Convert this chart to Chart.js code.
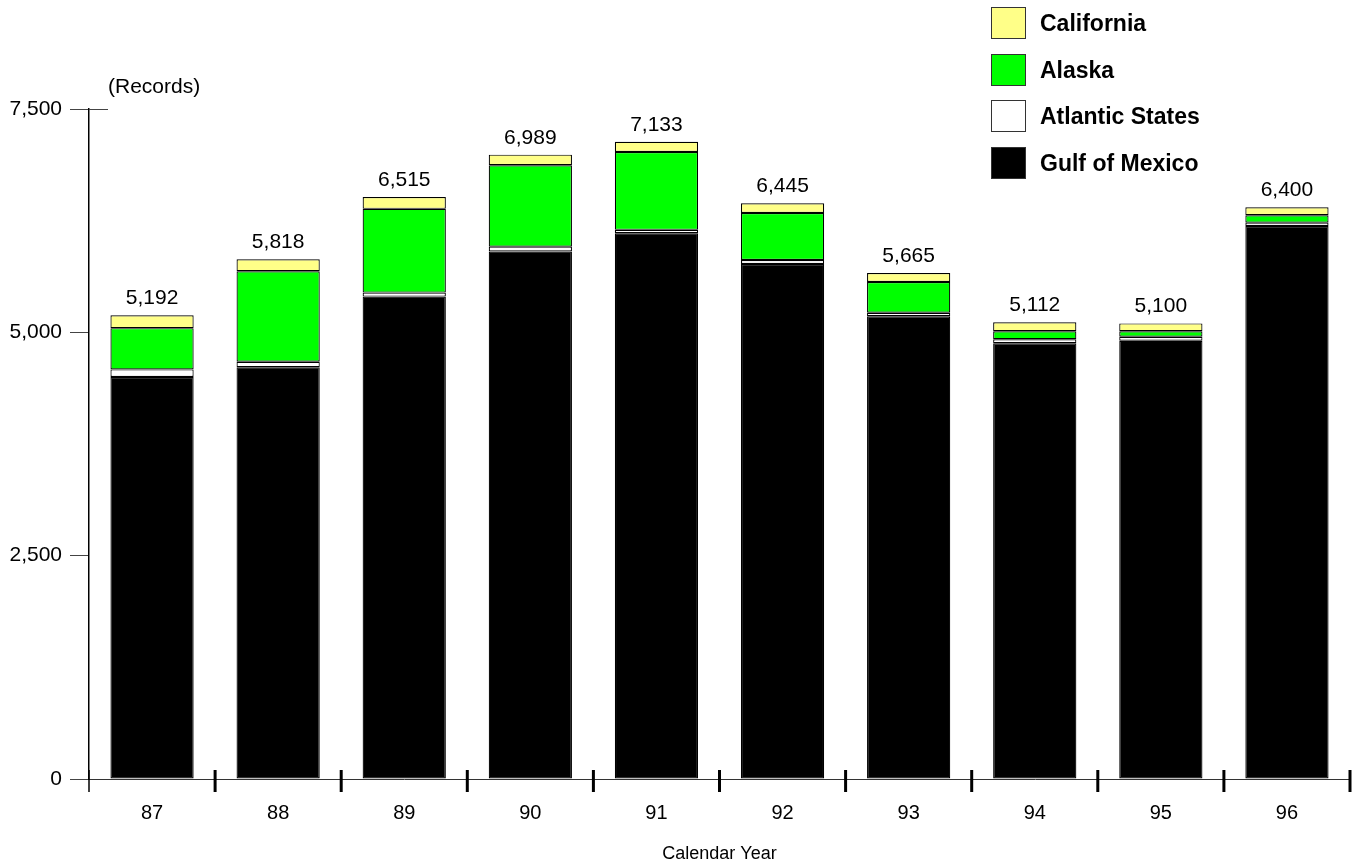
<!DOCTYPE html>
<html>
<head>
<meta charset="utf-8">
<title>Records by Calendar Year</title>
<script src="https://cdn.jsdelivr.net/npm/chart.js@4/dist/chart.umd.min.js"></script>
<style>
  html, body { margin: 0; padding: 0; background: #ffffff; }
  #wrap { position: relative; width: 1359px; height: 865px; }
  #chart { position: absolute; left: 0; top: 0; }
  #legend { position: absolute; left: 991px; top: 7px; font-family: "Liberation Sans", Arial, sans-serif; }
  .item { position: absolute; left: 0; height: 32px; width: 340px; }
  .box { position: absolute; left: 0; top: 0; width: 33px; height: 30px; border: 1px solid #333; box-sizing: content-box; }
  .lbl { position: absolute; left: 49px; top: 0; line-height: 32px; font-size: 23px; font-weight: bold; color: #000; white-space: nowrap; }
  #units { position: absolute; left: 108px; top: 74px; line-height: 26px; font: 21px "Liberation Sans", Arial, sans-serif; color: #000; }
</style>
</head>
<body>
<div id="wrap">
  <canvas id="chart" width="1359" height="865"></canvas>
  <div id="units">(Records)</div>
  <div id="legend"></div>
</div>
<script>
// Calendar years (last two digits)
const years = ['87', '88', '89', '90', '91', '92', '93', '94', '95', '96'];

// Records per region, stacked bottom to top
const gulfOfMexico   = [4500, 4610, 5400, 5905, 6110, 5765, 5180, 4877, 4905, 6190];
const atlanticStates = [  85,   60,   45,   54,   37,   45,   40,   45,   46,   38];
const alaska         = [ 462, 1013,  937,  911,  872,  526,  344,   90,   61,   82];
const california     = [ 145,  135,  133,  119,  114,  109,  101,  100,   88,   90];

// Value axis ticks
const yTicks = [0, 2500, 5000, 7500];

const FONT = '"Liberation Sans", Arial, sans-serif';
const fmt = v => Number(v).toLocaleString('en-US');

const series = [
  { label: 'Gulf of Mexico', data: gulfOfMexico,   color: '#000000' },
  { label: 'Atlantic States', data: atlanticStates, color: '#ffffff' },
  { label: 'Alaska',         data: alaska,         color: '#00ff00' },
  { label: 'California',     data: california,     color: '#ffff88' }
];

// Totals printed above each stack
const totalLabels = {
  id: 'totalLabels',
  afterDatasetsDraw(chart) {
    const ctx = chart.ctx;
    const y = chart.scales.y;
    const topMeta = chart.getDatasetMeta(chart.data.datasets.length - 1);
    ctx.save();
    ctx.font = '21px ' + FONT;
    ctx.fillStyle = '#000';
    ctx.textAlign = 'center';
    ctx.textBaseline = 'alphabetic';
    years.forEach((_, i) => {
      const total = chart.data.datasets.reduce((s, ds) => s + ds.data[i], 0);
      const x = topMeta.data[i].x;
      ctx.fillText(fmt(total), x, y.getPixelForValue(total) - 11);
    });
    ctx.restore();
  }
};

// Category separator ticks crossing the x axis, and the cap at the top of the value axis
const axisMarks = {
  id: 'axisMarks',
  afterDraw(chart) {
    const ctx = chart.ctx;
    const xs = chart.scales.x;
    const ys = chart.scales.y;
    const base = ys.getPixelForValue(0);
    const step = (xs.right - xs.left) / years.length;
    ctx.save();
    ctx.strokeStyle = '#000';
    for (let i = 0; i <= years.length; i++) {
      const x = xs.left + step * i;
      ctx.lineWidth = i === 0 ? 1.5 : 3;
      ctx.beginPath();
      ctx.moveTo(x, base - 9);
      ctx.lineTo(x, base + 13);
      ctx.stroke();
    }
    const topY = ys.getPixelForValue(7500);
    ctx.lineWidth = 1;
    ctx.strokeStyle = '#444';
    ctx.beginPath();
    ctx.moveTo(xs.left, topY + 0.5);
    ctx.lineTo(xs.left + 19, topY + 0.5);
    ctx.stroke();
    ctx.restore();
  }
};

new Chart(document.getElementById('chart'), {
  type: 'bar',
  data: {
    labels: years,
    datasets: series.map(s => ({
      label: s.label,
      data: s.data,
      backgroundColor: s.color,
      borderColor: '#000000',
      borderWidth: 1.2,
      borderSkipped: false,
      categoryPercentage: 1,
      barPercentage: 0.66
    }))
  },
  options: {
    responsive: false,
    animation: false,
    layout: { padding: { left: 0, right: 9, top: 109, bottom: 0 } },
    plugins: {
      legend: { display: false },
      tooltip: { enabled: false }
    },
    scales: {
      x: {
        stacked: true,
        afterFit(s) { s.height = 86; },
        grid: { display: false, drawTicks: false },
        border: { display: true, color: '#333', width: 1 },
        ticks: { color: '#000', font: { family: FONT, size: 20 }, padding: 22 },
        title: {
          display: true,
          text: 'Calendar Year',
          color: '#000',
          font: { family: FONT, size: 18 },
          padding: { top: 12, bottom: 0 }
        }
      },
      y: {
        stacked: true,
        min: 0,
        max: 7500,
        afterFit(s) { s.width = 89; },
        afterBuildTicks(s) { s.ticks = yTicks.map(v => ({ value: v })); },
        grid: { display: true, drawOnChartArea: false, drawTicks: true, tickLength: 19, color: '#444', lineWidth: 1 },
        border: { display: true, color: '#000', width: 1.5 },
        ticks: { color: '#000', font: { family: FONT, size: 21 }, padding: 8, callback: v => fmt(v) }
      }
    }
  },
  plugins: [totalLabels, axisMarks]
});

// Legend, top entry is the top of the stack
const legend = document.getElementById('legend');
series.slice().reverse().forEach((s, i) => {
  const item = document.createElement('div');
  item.className = 'item';
  item.style.top = (i * 46.7) + 'px';
  const box = document.createElement('div');
  box.className = 'box';
  box.style.background = s.color;
  const lbl = document.createElement('div');
  lbl.className = 'lbl';
  lbl.textContent = s.label;
  item.appendChild(box);
  item.appendChild(lbl);
  legend.appendChild(item);
});
</script>
</body>
</html>
